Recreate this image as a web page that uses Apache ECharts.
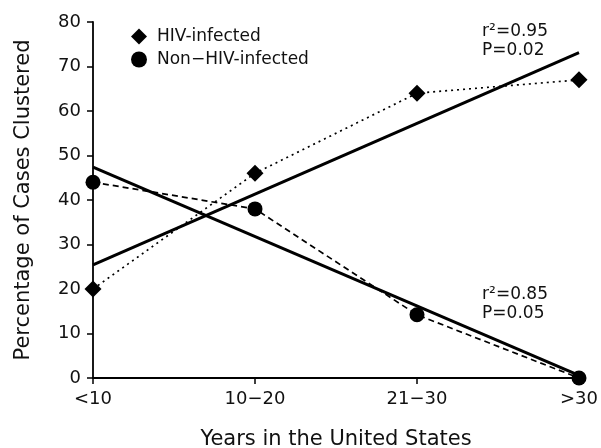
<!DOCTYPE html>
<html><head><meta charset="utf-8">
<script src="https://cdn.jsdelivr.net/npm/echarts@6/dist/echarts.min.js"></script>
<style>html,body{margin:0;padding:0;background:#fff}#c{width:601px;height:448px}</style>
</head><body><div id="c"></div>
<script>
const categories = ['<10', '10\u221220', '21\u221230', '>30'];
const hivValues = [20, 46, 64, 67];
const nonHivValues = [44, 38, 14.2, 0];
const hivFit = [[0, 25.4], [3, 73.1]];
const nonHivFit = [[0, 47.4], [3, 0.6]];
const hivStats = ['r\u00b2=0.95', 'P=0.02'];
const nonHivStats = ['r\u00b2=0.85', 'P=0.05'];
const yTicks = { min: 0, max: 80, interval: 10 };

const FONT = 'DejaVu Sans';
const INK = '#111';
const chart = echarts.init(document.getElementById('c'), null, { renderer: 'canvas' });
chart.setOption({
  animation: false,
  backgroundColor: '#fff',
  textStyle: { fontFamily: FONT, color: INK },
  grid: { left: 93, right: 22, top: 22, bottom: 70, outerBoundsMode: 'none', containLabel: false },
  legend: {
    left: 131, top: 28, orient: 'vertical', padding: 0, itemGap: 6,
    itemWidth: 16, itemHeight: 16,
    textStyle: { fontFamily: FONT, fontSize: 17, color: INK, padding: [0, 0, 0, 5] },
    data: [
      { name: 'HIV-infected', icon: 'diamond' },
      { name: 'Non\u2212HIV-infected', icon: 'circle' }
    ]
  },
  xAxis: {
    type: 'category', data: categories, boundaryGap: false,
    name: 'Years in the United States', nameLocation: 'middle', nameGap: 51,
    nameTextStyle: { fontFamily: FONT, fontSize: 21, color: INK },
    axisLine: { lineStyle: { color: '#000', width: 1.8 } },
    axisTick: { length: 6, lineStyle: { color: '#000', width: 1.5 } },
    axisLabel: { fontFamily: FONT, fontSize: 18, color: INK, margin: 12 },
    splitLine: { show: false }
  },
  yAxis: {
    type: 'value', min: yTicks.min, max: yTicks.max, interval: yTicks.interval,
    name: 'Percentage of Cases Clustered', nameLocation: 'middle', nameGap: 59, nameRotate: 90,
    nameTextStyle: { fontFamily: FONT, fontSize: 21, color: INK },
    axisLine: { show: true, lineStyle: { color: '#000', width: 1.8 } },
    axisTick: { show: true, length: 6, lineStyle: { color: '#000', width: 1.5 } },
    axisLabel: { fontFamily: FONT, fontSize: 18, color: INK, margin: 12 },
    splitLine: { show: false }
  },
  series: [
    { name: 'HIV fit', type: 'line', data: hivFit, symbol: 'none', z: 3,
      lineStyle: { color: '#000', width: 3 } },
    { name: 'Non-HIV fit', type: 'line', data: nonHivFit, symbol: 'none', z: 3,
      lineStyle: { color: '#000', width: 3 } },
    { name: 'HIV-infected', type: 'line', data: hivValues, symbol: 'diamond', symbolSize: 17, z: 4,
      itemStyle: { color: '#000' },
      lineStyle: { color: '#000', width: 1.7, type: [2, 4] } },
    { name: 'Non\u2212HIV-infected', type: 'line', data: nonHivValues, symbol: 'circle', symbolSize: 15, z: 4,
      itemStyle: { color: '#000' },
      lineStyle: { color: '#000', width: 1.7, type: [6, 4] } }
  ],
  graphic: [
    { type: 'text', right: 53, top: 22, style: { text: hivStats.join('\n'), font: '17px "DejaVu Sans"', fill: INK, align: 'right', lineHeight: 19 } },
    { type: 'text', right: 53, top: 285, style: { text: nonHivStats.join('\n'), font: '17px "DejaVu Sans"', fill: INK, align: 'right', lineHeight: 19 } }
  ]
});
</script></body></html>
